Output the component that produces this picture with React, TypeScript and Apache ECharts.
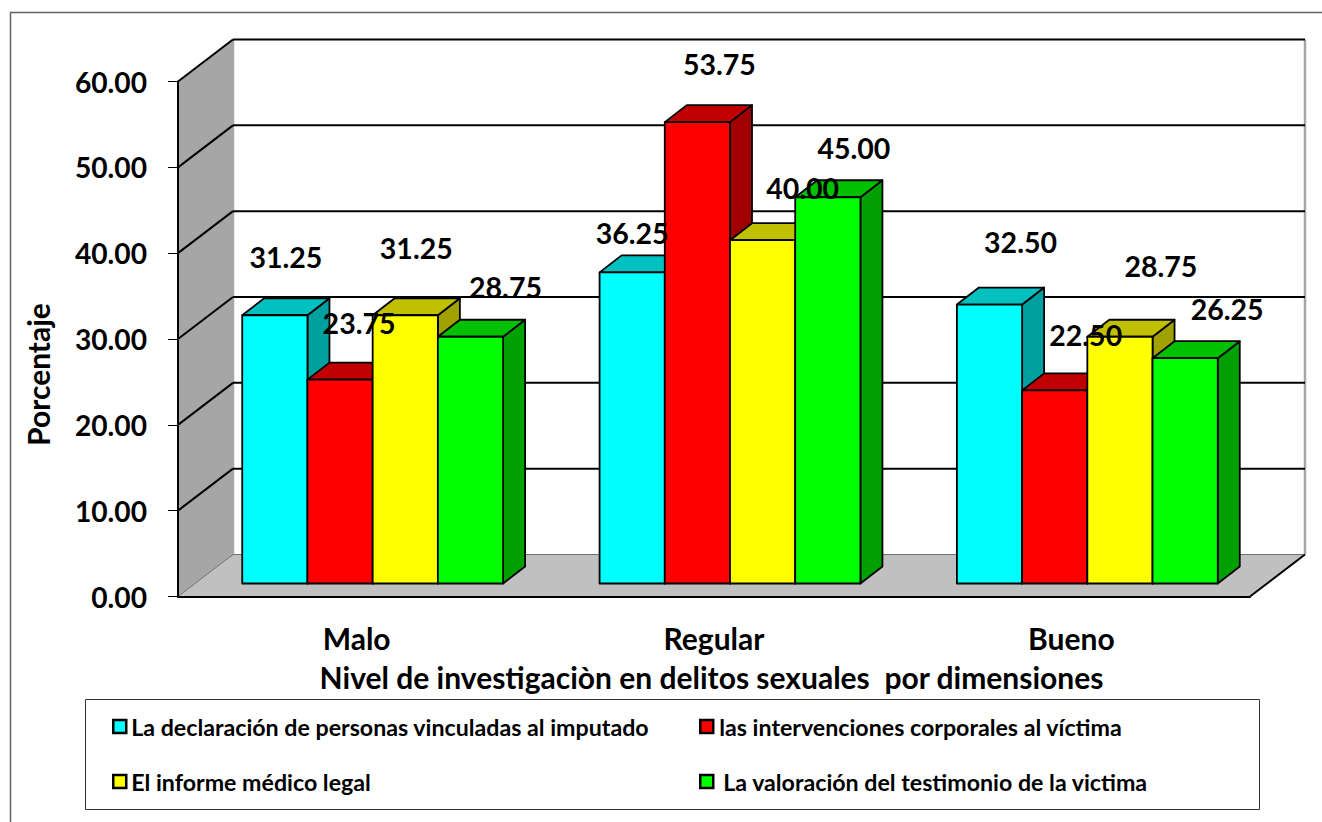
import React, { useEffect, useRef } from "react";
import * as echarts from "echarts";

const categories = ["Malo", "Regular", "Bueno"];
const seriesNames = [
  "La declaración de personas vinculadas al imputado",
  "las intervenciones corporales al víctima",
  "El informe médico legal",
  "La valoración del testimonio de la victima",
];
const declaracion = [31.25, 36.25, 32.5];
const intervenciones = [23.75, 53.75, 22.5];
const informe = [31.25, 40.0, 28.75];
const valoracion = [28.75, 45.0, 26.25];
const seriesValues = [declaracion, intervenciones, informe, valoracion];
const yTicks = [10, 20, 30, 40, 50, 60];

const FONT = "Lato";
const frontColors = ["#00FFFF", "#FF0000", "#FFFF00", "#00FF00"];
const topColors = ["#00C0C0", "#C00000", "#C0C000", "#00C000"];
const sideColors = ["#00A0A0", "#A00000", "#A0A000", "#00A000"];

// Manual placement of the data labels relative to each bar's front-top centre
const labelOffsets = [
  [[11, -58], [0, -39], [31, -63]],
  [[19, -57], [22, -58], [31, -55]],
  [[11, -67], [40, -52], [41, -71]],
  [[35, -50], [26, -49], [42, -49]],
];

// 3D projection constants
const WALL_DX = 55;
const WALL_DY = -42;
const BAR_START_DX = 16;
const BAR_START_DY = -13;
const BAR_DX = 22;
const BAR_DY = -17;
const BAR_WIDTH_RATIO = 0.1825;

function barGeometry(api: any, seriesIdx: number) {
  const cat = api.value(0);
  const val = api.value(1);
  const base = api.coord([cat, 0]);
  const top = api.coord([cat, val]);
  const w = api.size([1, 0])[0] * BAR_WIDTH_RATIO;
  const x0 = base[0] - 2 * w + seriesIdx * w + BAR_START_DX;
  return { x0, w, yBase: base[1] + BAR_START_DY, yTop: top[1] + BAR_START_DY, cat };
}

function barRender(seriesIdx: number) {
  return (_p: any, api: any) => {
    const { x0, w, yBase, yTop } = barGeometry(api, seriesIdx);
    const line = { stroke: "#000", lineWidth: 1.8, lineJoin: "round" };
    return {
      type: "group",
      children: [
        {
          type: "polygon",
          shape: { points: [[x0 + w, yTop], [x0 + w + BAR_DX, yTop + BAR_DY], [x0 + w + BAR_DX, yBase + BAR_DY], [x0 + w, yBase]] },
          style: { fill: sideColors[seriesIdx], ...line },
        },
        {
          type: "polygon",
          shape: { points: [[x0, yTop], [x0 + BAR_DX, yTop + BAR_DY], [x0 + w + BAR_DX, yTop + BAR_DY], [x0 + w, yTop]] },
          style: { fill: topColors[seriesIdx], ...line },
        },
        {
          type: "rect",
          shape: { x: x0, y: yTop, width: w, height: yBase - yTop },
          style: { fill: frontColors[seriesIdx], ...line },
        },
      ],
    };
  };
}

function labelRender(seriesIdx: number) {
  return (_p: any, api: any) => {
    const { x0, w, yTop, cat } = barGeometry(api, seriesIdx);
    const [dx, dy] = labelOffsets[seriesIdx][cat];
    return {
      type: "text",
      x: x0 + w / 2 + dx,
      y: yTop + dy,
      style: {
        text: api.value(1).toFixed(2),
        fill: "#000",
        font: `bold 28.5px ${FONT}`,
        align: "center",
        verticalAlign: "middle",
      },
    };
  };
}

function wallRender(_p: any, api: any) {
  const bl = api.coord([0, 0]);
  const tl = api.coord([0, 60]);
  const halfBand = api.size([1, 0])[0] / 2;
  const x0 = bl[0] - halfBand;
  const x1 = api.coord([2, 0])[0] + halfBand;
  const y0 = bl[1];
  const y1 = tl[1];
  const edge = { stroke: "#A6A6A6", lineWidth: 2.5 };
  return {
    type: "group",
    children: [
      {
        type: "polygon",
        shape: { points: [[x0, y1], [x0 + WALL_DX, y1 + WALL_DY], [x0 + WALL_DX, y0 + WALL_DY], [x0, y0]] },
        style: { fill: "#A6A6A6" },
      },
      {
        type: "polygon",
        shape: { points: [[x0, y0], [x1, y0], [x1 + WALL_DX, y0 + WALL_DY], [x0 + WALL_DX, y0 + WALL_DY]] },
        style: { fill: "#C0C0C0" },
      },
      { type: "line", shape: { x1: x0 + WALL_DX, y1: y1 + WALL_DY, x2: x0 + WALL_DX, y2: y0 + WALL_DY }, style: edge },
      { type: "line", shape: { x1: x1 + WALL_DX, y1: y1 + WALL_DY, x2: x1 + WALL_DX, y2: y0 + WALL_DY }, style: edge },
      { type: "line", shape: { x1: x0 + WALL_DX, y1: y0 + WALL_DY, x2: x1 + WALL_DX, y2: y0 + WALL_DY }, style: { stroke: "#707070", lineWidth: 1 } },
      { type: "line", shape: { x1: x0, y1: y0, x2: x0 + WALL_DX, y2: y0 + WALL_DY }, style: { stroke: "#707070", lineWidth: 1 } },
      { type: "line", shape: { x1: x1, y1: y0, x2: x1 + WALL_DX, y2: y0 + WALL_DY }, style: { stroke: "#000", lineWidth: 2 } },
    ],
  };
}

function gridRender(_p: any, api: any) {
  const p = api.coord([0, api.value(1)]);
  const halfBand = api.size([1, 0])[0] / 2;
  const x0 = p[0] - halfBand;
  const x1 = api.coord([2, 0])[0] + halfBand;
  const style = { stroke: "#000", lineWidth: 2 };
  return {
    type: "group",
    children: [
      { type: "line", shape: { x1: x0, y1: p[1], x2: x0 + WALL_DX, y2: p[1] + WALL_DY }, style },
      { type: "line", shape: { x1: x0 + WALL_DX, y1: p[1] + WALL_DY, x2: x1 + WALL_DX, y2: p[1] + WALL_DY }, style },
    ],
  };
}

export default function App() {
  const ref = useRef<HTMLDivElement>(null);
  useEffect(() => {
    const chart = echarts.init(ref.current!, null, { renderer: "svg" });
    const legendPos = [
      { left: 112, top: 715, gap: 0 },
      { left: 699, top: 715, gap: 1 },
      { left: 112, top: 770, gap: 0 },
      { left: 699, top: 770, gap: 5 },
    ];
    chart.setOption({
      animation: false,
      backgroundColor: "#fff",
      textStyle: { fontFamily: FONT },
      grid: { left: 178, right: 72, top: 81.5, bottom: 225.5 },
      xAxis: {
        type: "category",
        data: categories,
        z: 3,
        name: "Nivel de investigaciòn en delitos sexuales  por dimensiones",
        nameLocation: "middle",
        nameGap: 80,
        nameTextStyle: { fontFamily: FONT, fontWeight: "bold", fontSize: 30, color: "#000", verticalAlign: "middle", padding: [0, 5, 0, 0] },
        axisLine: { lineStyle: { color: "#000", width: 2 } },
        axisTick: { length: 10, lineStyle: { color: "#000", width: 1 } },
        axisLabel: { fontFamily: FONT, fontWeight: "bold", fontSize: 30, color: "#000", margin: 26 },
      },
      yAxis: {
        type: "value",
        min: 0,
        max: 60,
        interval: 10,
        z: 3,
        name: "Porcentaje",
        nameLocation: "middle",
        nameGap: 140,
        nameRotate: 90,
        nameTextStyle: { fontFamily: FONT, fontWeight: "bold", fontSize: 30, color: "#000", verticalAlign: "middle", padding: [0, 71, 0, 0] },
        splitLine: { show: false },
        axisLine: { show: true, lineStyle: { color: "#000", width: 2 } },
        axisTick: { show: true, length: 10, lineStyle: { color: "#000", width: 1 } },
        axisLabel: {
          fontFamily: FONT,
          fontWeight: "bold",
          fontSize: 28.2,
          color: "#000",
          margin: 31,
          formatter: (v: number) => v.toFixed(2),
        },
      },
      legend: seriesNames.map((n, i) => ({
        data: [n],
        left: legendPos[i].left,
        top: legendPos[i].top,
        padding: 0,
        itemWidth: 13,
        itemHeight: 13,
        itemGap: 0,
        icon: "rect",
        itemStyle: { color: frontColors[i], borderColor: "#000", borderWidth: 2.5 },
        textStyle: { fontFamily: FONT, fontWeight: "bold", fontSize: 23.2, color: "#000", padding: [0, 0, 0, legendPos[i].gap] },
        selectedMode: false,
      })),
      graphic: [
        { type: "polyline", z: 0, shape: { points: [[10.5, 822], [10.5, 12.5], [1322, 12.5]] }, style: { stroke: "#666", lineWidth: 1.5, fill: "none" } },
        { type: "rect", z: 0, shape: { x: 85.5, y: 699.5, width: 1174, height: 110 }, style: { stroke: "#333", lineWidth: 1, fill: "#fff" } },
      ],
      series: [
        {
          type: "custom",
          name: "walls",
          z: 1,
          silent: true,
          renderItem: wallRender,
          data: [[0, 60]],
          encode: { x: 0, y: 1 },
        },
        {
          type: "custom",
          name: "gridlines",
          z: 2,
          silent: true,
          renderItem: gridRender,
          data: yTicks.map((t) => [0, t]),
          encode: { x: 0, y: 1 },
        },
        ...seriesNames.map((n, i) => ({
          type: "custom",
          name: n,
          z: 4,
          silent: true,
          itemStyle: { color: frontColors[i] },
          renderItem: barRender(i),
          data: seriesValues[i].map((v, c) => [c, v]),
          encode: { x: 0, y: 1 },
        })),
        ...seriesNames.map((_n, i) => ({
          type: "custom",
          name: `labels-${i}`,
          z: 6,
          silent: true,
          renderItem: labelRender(i),
          data: seriesValues[i].map((v, c) => [c, v]),
          encode: { x: 0, y: 1 },
        })),
      ],
    });
    return () => chart.dispose();
  }, []);
  return <div ref={ref} style={{ position: "fixed", left: 0, top: 0, width: 1322, height: 822 }} />;
}
